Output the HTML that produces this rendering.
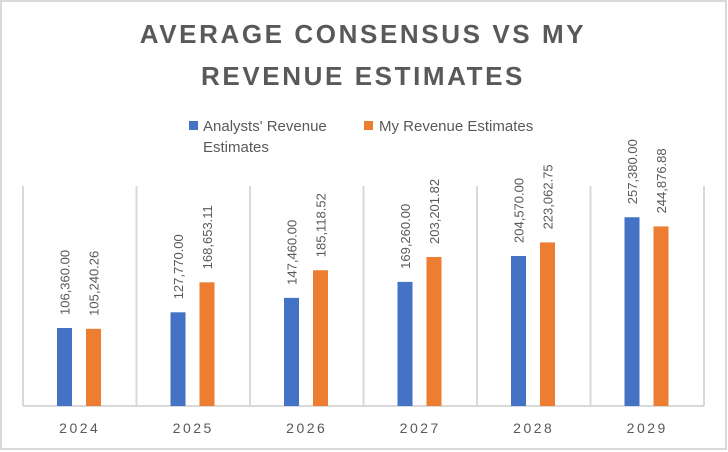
<!DOCTYPE html>
<html><head><meta charset="utf-8"><style>
html,body{margin:0;padding:0;background:#fff;}
svg{display:block;}
text{font-family:"Liberation Sans",sans-serif;fill:#595959;}
</style></head><body>
<svg width="728" height="452">
<rect x="1" y="1" width="725" height="448" fill="#fff" stroke="#d9d9d9" stroke-width="2"/>
<text x="363" y="43" text-anchor="middle" font-size="26" font-weight="bold" letter-spacing="2.6">AVERAGE CONSENSUS VS MY</text>
<text x="363" y="85" text-anchor="middle" font-size="26" font-weight="bold" letter-spacing="2.6">REVENUE ESTIMATES</text>
<g>
<rect x="189" y="121" width="9" height="9" fill="#4472c4"/>
<text x="203" y="131" font-size="15">Analysts' Revenue</text>
<text x="203" y="152" font-size="15">Estimates</text>
</g>
<g>
<rect x="364" y="121" width="9" height="9" fill="#ed7d31"/>
<text x="379" y="131" font-size="15">My Revenue Estimates</text>
</g>
<g id="plot"></g>
</svg>
<script>
const categories = ["2024","2025","2026","2027","2028","2029"];
const analysts = [106360.00,127770.00,147460.00,169260.00,204570.00,257380.00];
const mine = [105240.26,168653.11,185118.52,203201.82,223062.75,244876.88];
const analystsLabels = ["106,360.00","127,770.00","147,460.00","169,260.00","204,570.00","257,380.00"];
const mineLabels = ["105,240.26","168,653.11","185,118.52","203,201.82","223,062.75","244,876.88"];
const yMax = 300000;

const NS="http://www.w3.org/2000/svg";
const g=document.getElementById('plot');
const L=23,R=704,T=186,B=406;
const cw=(R-L)/categories.length;
const y=v=>B-(v/yMax)*(B-T);
function mk(tag,attrs){const e=document.createElementNS(NS,tag);for(const k in attrs)e.setAttribute(k,attrs[k]);g.appendChild(e);return e;}
for(let i=0;i<=categories.length;i++){
  const l=mk('line',{x1:L+i*cw,x2:L+i*cw,y1:T,y2:B,stroke:'#d9d9d9','stroke-width':2});
  
  
}
const ax=mk('line',{x1:L,x2:R,y1:B,y2:B,stroke:'#d9d9d9','stroke-width':2});


const bw=15;
categories.forEach((c,i)=>{
  const x0=L+i*cw;
  [[analysts,analystsLabels,'#4472c4',34,'analysts'],[mine,mineLabels,'#ed7d31',63,'mine']].forEach(([vals,labs,col,off,nm])=>{
    const v=vals[i],yt=y(v),bx=x0+off;
    const r=mk('rect',{x:bx,y:yt,width:bw,height:B-yt,fill:col});
    
    
    const cx=bx+bw/2+5,ty=yt-13;
    const t=mk('text',{x:cx,y:ty,'font-size':13,transform:`rotate(-90 ${cx} ${ty})`});
    t.textContent=labs[i];
    
    
  });
  const xt=mk('text',{x:x0+cw/2,y:433,'font-size':14,'text-anchor':'middle','letter-spacing':2.5});
  xt.textContent=c;
  
  
});
</script>
</body></html>
